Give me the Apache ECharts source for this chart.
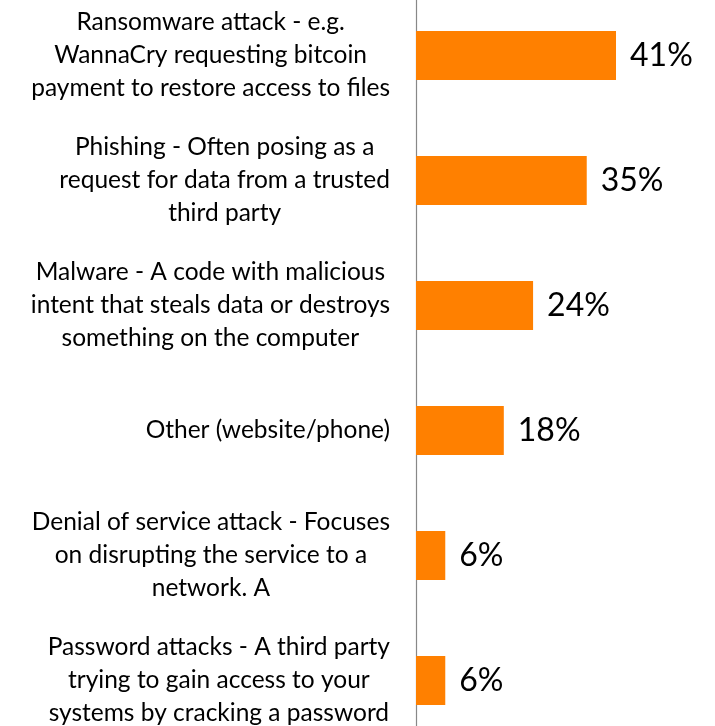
<!DOCTYPE html>
<html>
<head>
<meta charset="utf-8">
<script src="https://cdn.jsdelivr.net/npm/echarts@6/dist/echarts.min.js"></script>
<style>
html,body{margin:0;padding:0;background:#fff;}
#chart{width:715px;height:726px;}
</style>
</head>
<body>
<div id="chart"></div>
<script>
var categories = [
  "Ransomware attack - e.g.\nWannaCry requesting bitcoin\npayment to restore access to files",
  "Phishing - Often posing as a\nrequest for data from a trusted\nthird party",
  "Malware - A code with malicious\nintent that steals data or destroys\nsomething on the computer",
  "Other (website/phone)",
  "Denial of service attack - Focuses\non disrupting the service to a\nnetwork. A",
  "Password attacks - A third party\ntrying to gain access to your\nsystems by cracking a password"
];
var values = [41, 35, 24, 18, 6, 6];

var chart = echarts.init(document.getElementById('chart'), null, {renderer: 'canvas'});
var FONT = 'Lato';
chart.setOption({
  animation: false,
  backgroundColor: '#fff',
  grid: {left: 416, top: -7, width: 292.7, height: 750, containLabel: false, outerBoundsMode: 'none'},
  xAxis: {
    type: 'value', min: 0, max: 60,
    show: false
  },
  yAxis: {
    type: 'category',
    inverse: true,
    data: categories,
    axisLine: {show: true, lineStyle: {color: '#888888', width: 1.2}},
    axisTick: {show: false},
    splitLine: {show: false},
    axisLabel: {
      margin: 26,
      align: 'right',
      fontFamily: FONT,
      fontSize: 24.5,
      lineHeight: 33,
      color: '#000',
      formatter: function (v) {
        return v.split('\n').map(function (s) { return '{c|' + s + '}'; }).join('\n');
      },
      rich: {
        c: {align: 'center', fontFamily: FONT, fontSize: 24.5, lineHeight: 33, color: '#000'}
      }
    }
  },
  series: [{
    type: 'bar',
    data: values,
    barWidth: 49,
    itemStyle: {color: '#FF8000'},
    label: {
      show: true,
      position: 'right',
      distance: 14,
      formatter: '{c}%',
      fontFamily: FONT,
      fontSize: 32,
      color: '#000'
    }
  }]
});
</script>
</body>
</html>
